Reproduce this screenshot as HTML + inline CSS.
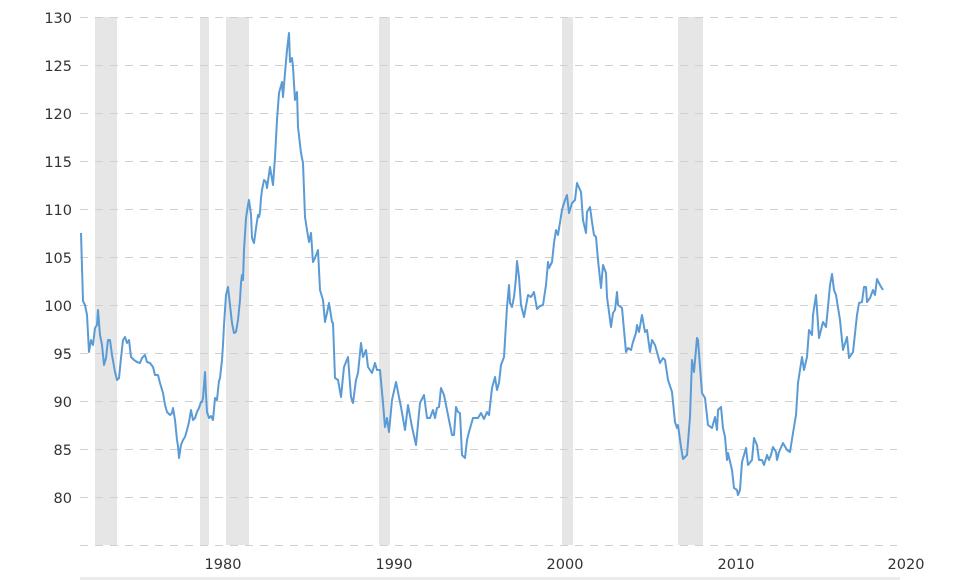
<!DOCTYPE html>
<html><head><meta charset="utf-8"><style>
html,body{margin:0;padding:0;background:#fff;}
svg{display:block;}
text{font-family:"DejaVu Sans","Liberation Sans",sans-serif;font-size:14.5px;fill:#333;}
</style></head><body>
<svg width="973" height="580" viewBox="0 0 973 580">
<g fill="#e6e6e6">
<rect x="95" y="17" width="22" height="528"/>
<rect x="200" y="17" width="9" height="528"/>
<rect x="226" y="17" width="23" height="528"/>
<rect x="379" y="17" width="11" height="528"/>
<rect x="562" y="17" width="11" height="528"/>
<rect x="678" y="17" width="25" height="528"/>
</g>
<g stroke="#d0d0d0" stroke-width="1" stroke-dasharray="8,7">
<line x1="80" x2="897" y1="17.5" y2="17.5"/>
<line x1="80" x2="897" y1="65.5" y2="65.5"/>
<line x1="80" x2="897" y1="113.5" y2="113.5"/>
<line x1="80" x2="897" y1="161.5" y2="161.5"/>
<line x1="80" x2="897" y1="209.5" y2="209.5"/>
<line x1="80" x2="897" y1="257.5" y2="257.5"/>
<line x1="80" x2="897" y1="305.5" y2="305.5"/>
<line x1="80" x2="897" y1="353.5" y2="353.5"/>
<line x1="80" x2="897" y1="401.5" y2="401.5"/>
<line x1="80" x2="897" y1="449.5" y2="449.5"/>
<line x1="80" x2="897" y1="497.5" y2="497.5"/>
<line x1="80" x2="897" y1="545.5" y2="545.5"/>
</g>
<g text-anchor="end">
<text x="72" y="23">130</text>
<text x="72" y="71">125</text>
<text x="72" y="119">120</text>
<text x="72" y="167">115</text>
<text x="72" y="215">110</text>
<text x="72" y="263">105</text>
<text x="72" y="311">100</text>
<text x="72" y="359">95</text>
<text x="72" y="407">90</text>
<text x="72" y="455">85</text>
<text x="72" y="503">80</text>
</g>
<g text-anchor="middle">
<text x="223" y="569">1980</text>
<text x="394" y="569">1990</text>
<text x="565" y="569">2000</text>
<text x="736" y="569">2010</text>
<text x="906" y="569">2020</text>
</g>
<rect x="80" y="577" width="820" height="3" fill="#ececec"/>
<polyline fill="none" stroke="#5b9bd5" stroke-width="2" stroke-linejoin="round" points="
81,233 83,301 85,305 87,315 89,352 91,340 93,345 95,328 97,325 98,310 100,335 102,345 104,365 106,358 108,340 110,340 112,355 115,372 117,380 119,378 121,358 123,340 125,337 127,343 129,340 131,357 134,360 137,362 140,363 142,358 145,355 147,362 150,363 153,367 155,375 158,375 160,383 163,393 165,405 167,412 170,415 172,413 173,408 175,420 177,440 178,446 179,458 181,445 183,440 185,437 187,430 189,422 191,410 193,420 195,418 197,412 199,408 201,402 202,402 203,398 204,385 205,372 206,395 207,412 209,418 211,416 213,420 215,398 217,400 218,390 219,381 220,378 222,360 223,345 224,325 226,295 228,287 230,305 232,323 234,333 236,332 238,320 240,300 241,283 242,275 243,280 244,250 246,218 248,205 249,200 251,215 252,238 254,243 256,228 258,215 259,217 260,212 261,198 262,190 264,180 266,182 267,188 270,167 273,185 275,157 277,120 279,93 282,82 283,97 285,73 287,50 289,33 290,62 292,58 293,67 295,100 297,92 298,127 301,153 303,163 305,217 307,230 309,242 311,233 313,262 315,258 318,250 320,290 323,300 325,322 327,313 329,303 332,322 333,323 335,378 338,380 341,397 344,367 348,357 351,397 353,403 356,380 358,373 361,343 363,357 366,350 368,367 372,373 375,363 377,370 380,370 383,403 385,427 387,418 389,432 392,400 396,382 401,407 405,430 408,405 412,427 416,445 420,403 424,395 427,418 430,418 433,410 435,418 437,408 439,407 441,388 444,395 447,410 452,435 454,435 456,407 458,412 460,413 462,455 465,458 467,440 469,432 473,418 478,418 481,413 484,419 487,412 489,415 492,388 495,377 497,390 499,383 501,365 504,357 507,307 509,285 510,303 512,307 514,297 516,278 517,261 519,277 521,305 524,317 528,295 531,297 534,292 537,309 540,306 543,305 546,285 548,262 549,268 552,262 554,243 556,230 558,235 562,210 564,203 567,195 569,213 572,203 575,200 577,183 581,192 583,220 586,233 587,212 590,207 592,222 594,235 596,237 598,260 601,288 603,265 606,273 607,297 611,327 613,313 615,310 617,292 618,305 622,308 626,352 628,348 631,350 633,342 636,333 637,325 639,332 642,315 645,332 647,330 650,352 652,340 655,345 660,363 663,358 665,360 668,380 672,392 675,422 677,428 678,425 681,447 683,459 687,455 690,417 692,360 694,372 697,338 698,340 702,393 705,398 708,425 712,428 715,417 717,430 718,410 721,407 723,428 725,437 727,460 728,453 732,470 734,488 737,490 738,495 740,490 742,462 746,448 748,465 752,460 754,438 757,445 759,460 762,460 764,465 767,455 769,460 771,455 773,447 776,452 777,460 779,452 783,443 787,450 790,452 793,433 796,415 798,383 802,357 804,370 807,357 809,330 812,335 813,315 816,295 819,338 823,322 826,327 828,307 830,285 832,274 834,290 836,295 840,320 843,350 847,337 849,358 853,352 857,315 859,303 862,302 864,287 866,287 867,302 870,298 873,290 875,295 877,279 880,285 883,290"/>
</svg>
</body></html>
